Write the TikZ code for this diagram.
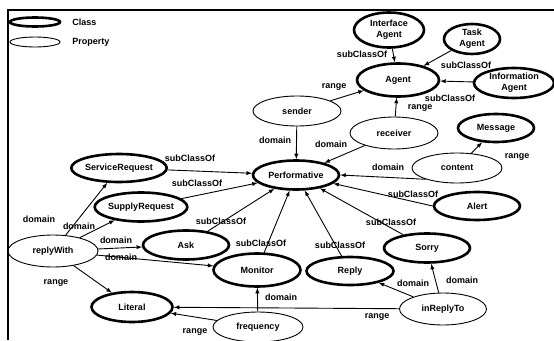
\documentclass[tikz,border=0pt]{standalone}
\usepackage{fontspec}
\setmainfont{Liberation Sans}
\usetikzlibrary{shapes.geometric}

\tikzset{
  txt/.style={font=\fontsize{9}{11}\selectfont\bfseries},
  cls/.style={ellipse, draw, line width=2.6pt, inner sep=0pt, align=center,
    minimum width=86pt, minimum height=29pt, txt},
  prop/.style={ellipse, draw, line width=0.9pt, inner sep=0pt, align=center,
    minimum width=88pt, minimum height=31pt, txt},
  lbl/.style={inner sep=0pt, txt},
}

\begin{document}
\begin{tikzpicture}[x=1pt, y=-1pt, >=latex, line width=0.9pt]
    \useasboundingbox (0,0) rectangle (554,340);
    \draw[line width=1.2pt] (8,340) -- (8,10) -- (554,10);

    % legend
    \node[cls, minimum width=50pt, minimum height=9pt] (legCls) at (35,22) {};
    \node[prop, minimum width=50pt, minimum height=10pt] (legProp) at (35,42) {};
    \node[lbl, anchor=west] (legClsTxt) at (72,22) {Class};
    \node[lbl, anchor=west] (legPropTxt) at (72,42) {Property};

    % classes
    \node[cls, minimum width=70pt, minimum height=35pt] (interfaceAgent) at (389,30) {Interface\\Agent};
    \node[cls, minimum width=56pt, minimum height=30pt] (taskAgent) at (472,39) {Task\\Agent};
    \node[cls, minimum width=82pt, minimum height=33pt] (agent) at (398,80) {Agent};
    \node[cls, minimum width=80pt, minimum height=30pt] (infoAgent) at (514,83) {Information\\Agent};
    \node[cls, minimum width=76pt, minimum height=28pt] (message) at (496,128) {Message};
    \node[cls] (performative) at (296,175) {Performative};
    \node[cls, minimum width=88pt, minimum height=28pt] (serviceRequest) at (119,168) {ServiceRequest};
    \node[cls, minimum width=85pt] (supplyRequest) at (141,207) {SupplyRequest};
    \node[cls] (ask) at (186,245) {Ask};
    \node[cls, minimum height=28pt] (alert) at (477,206) {Alert};
    \node[cls] (sorry) at (427,248) {Sorry};
    \node[cls, minimum width=87pt, minimum height=33pt] (monitor) at (257,270) {Monitor};
    \node[cls, minimum width=87pt, minimum height=28pt] (reply) at (350,271) {Reply};
    \node[cls, minimum width=81pt, minimum height=30pt] (literal) at (132,307) {Literal};

    % properties
    \node[prop, minimum height=30pt] (sender) at (297,111) {sender};
    \node[prop, minimum height=32pt] (receiver) at (394,133) {receiver};
    \node[prop, minimum width=90pt, minimum height=30pt] (content) at (457,168) {content};
    \node[prop, minimum width=90pt, minimum height=32pt] (replyWith) at (53,251) {replyWith};
    \node[prop, minimum width=90pt, minimum height=30pt] (frequency) at (258,327) {frequency};
    \node[prop, minimum width=87pt, minimum height=32pt] (inReplyTo) at (443,309) {inReplyTo};

    % subClassOf
    \draw[->] (interfaceAgent) -- (agent);
    \node[lbl] (subInterface) at (362,54) {subClassOf};
    \draw[->] (taskAgent) -- (agent);
    \node[lbl] (subTask) at (466,65) {subClassOf};
    \draw[->] (infoAgent) -- (agent);
    \node[lbl] (subInfo) at (450,98) {subClassOf};
    \draw[->] (serviceRequest) -- (performative);
    \node[lbl] (subService) at (190,158) {subClassOf};
    \draw[->] (supplyRequest) -- (performative);
    \node[lbl] (subSupply) at (197,183) {subClassOf};
    \draw[->] (ask) -- (performative);
    \node[lbl] (subAsk) at (221,221) {subClassOf};
    \draw[->] (monitor) -- (performative);
    \node[lbl] (subMonitor) at (261,243) {subClassOf};
    \draw[->] (reply) -- (performative);
    \node[lbl] (subReply) at (340,245) {subClassOf};
    \draw[->] (sorry) -- (performative);
    \node[lbl] (subSorry) at (391,222) {subClassOf};
    \draw[->] (alert.west) -- (performative);
    \node[lbl] (subAlert) at (413,194) {subClassOf};

    % domains and ranges
    \draw[->] (sender) -- (agent);
    \node[lbl] (rngSender) at (334,87) {range};
    \draw[->] (receiver) -- (agent);
    \node[lbl] (rngReceiver) at (420,108) {range};
    \draw[->] (sender) -- (performative);
    \node[lbl] (domSender) at (275,140) {domain};
    \draw[->] (receiver) -- (performative);
    \node[lbl] (domReceiver) at (331,144) {domain};
    \draw[->] (content.200) -- (performative.east);
    \node[lbl] (domContent) at (388,167) {domain};
    \draw[->] (content) -- (message);
    \node[lbl] (rngContent) at (517,157) {range};
    \draw[->] (replyWith) -- (serviceRequest);
    \node[lbl] (domRwService) at (39,219) {domain};
    \draw[->] (replyWith) -- (supplyRequest);
    \node[lbl] (domRwSupply) at (79,226) {domain};
    \draw[->] (replyWith) -- (ask);
    \node[lbl] (domRwAsk) at (116,240) {domain};
    \draw[->] (replyWith) -- (monitor);
    \node[lbl] (domRwMonitor) at (121,257) {domain};
    \draw[->] (replyWith) -- (literal);
    \node[lbl] (rngReplyWith) at (56,283) {range};
    \draw[->] (frequency) -- (monitor);
    \node[lbl] (domFrequency) at (281,297) {domain};
    \draw[->] (frequency) -- (literal);
    \node[lbl] (rngFrequency) at (195,332) {range};
    \draw[->] (inReplyTo) -- (literal);
    \node[lbl] (rngInReplyTo) at (377,317) {range};
    \draw[->] (inReplyTo) -- (reply);
    \node[lbl] (domIrReply) at (413,283) {domain};
    \draw[->] (inReplyTo) -- (sorry);
    \node[lbl] (domIrSorry) at (462,280) {domain};
\end{tikzpicture}
\end{document}
